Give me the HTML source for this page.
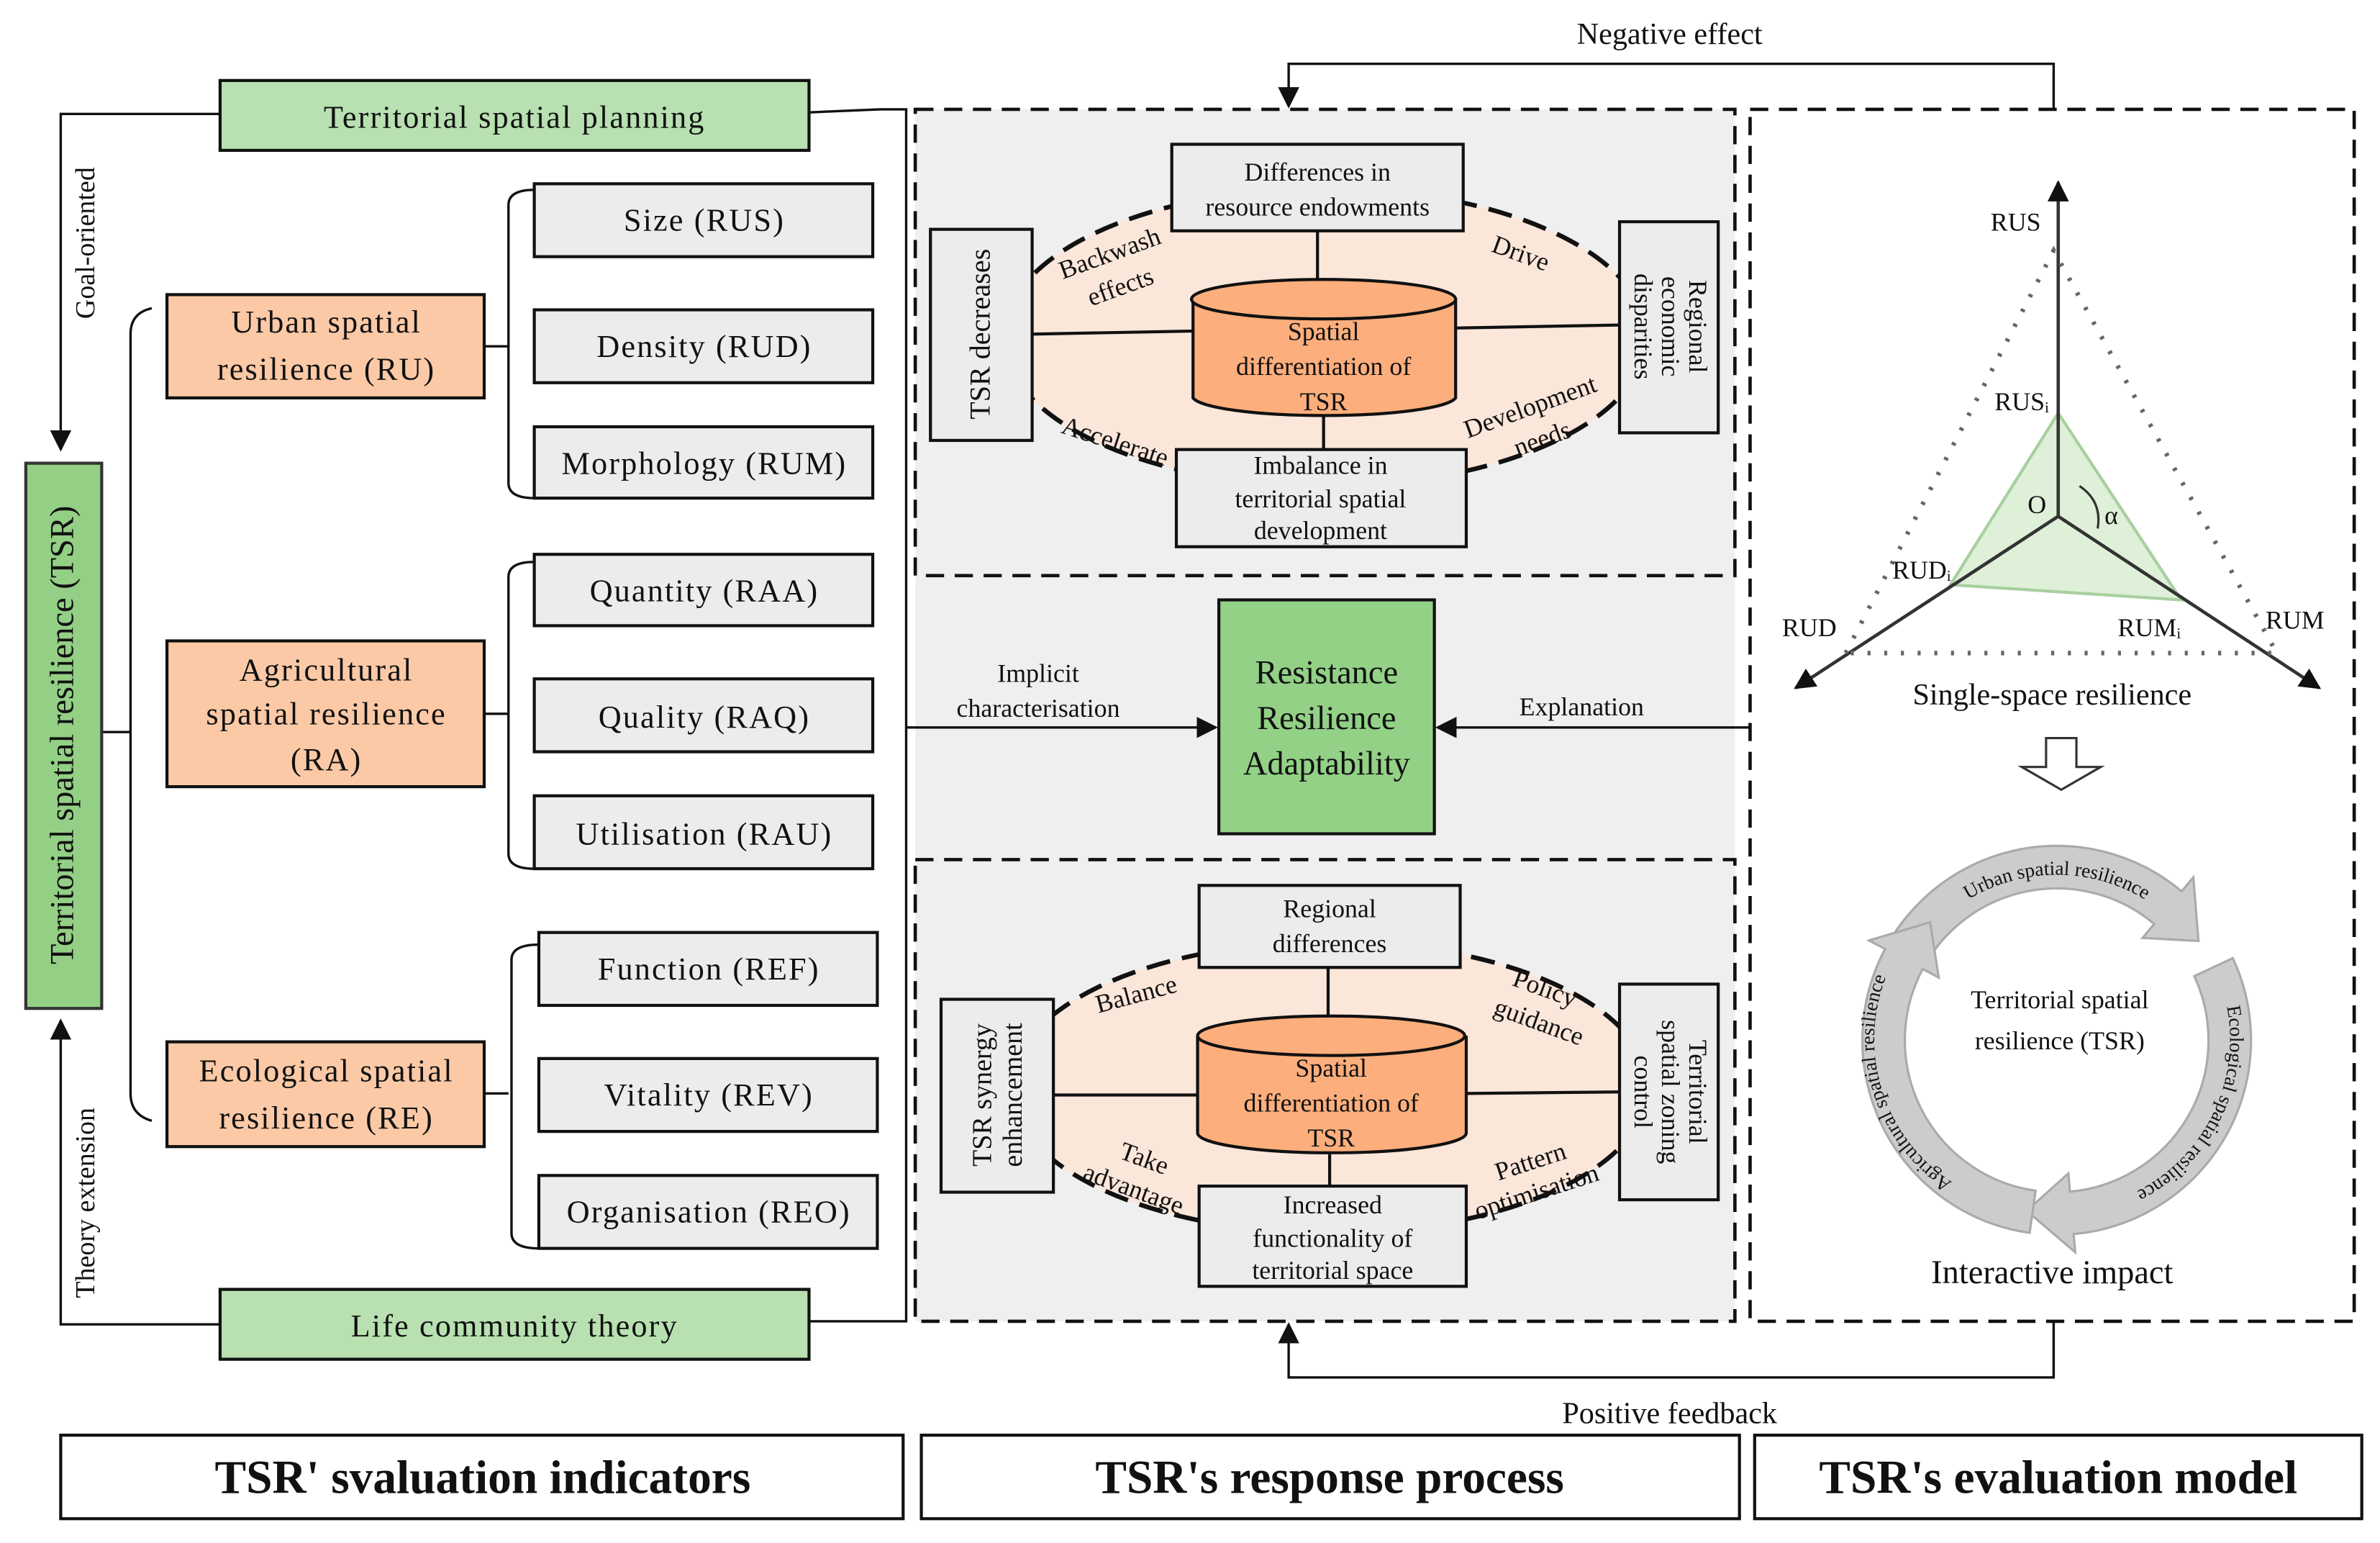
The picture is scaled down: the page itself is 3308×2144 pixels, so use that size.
<!DOCTYPE html>
<html><head><meta charset="utf-8"><style>
html,body{margin:0;padding:0;background:#fff;font-family:"Liberation Serif","Times New Roman",serif;}
svg{display:block;}
svg text{font-family:"Liberation Serif","Times New Roman",serif;fill:#111;}
</style></head><body>
<svg width="3308" height="2144" viewBox="0 0 1568 1016" preserveAspectRatio="none" xmlns="http://www.w3.org/2000/svg" font-family="Liberation Serif, Times New Roman, serif">
<defs>
<marker id="ahb" viewBox="0 0 10 10" refX="9" refY="5" markerWidth="14" markerHeight="14" orient="auto" markerUnits="userSpaceOnUse"><path d="M0,0 L10,5 L0,10 z" fill="#111"/></marker>
<path id="arcU" d="M1258,632 A112,112 0 0 1 1452,632"/>
<path id="arcE" d="M1460,640 A112,112 0 0 1 1385,793"/>
<path id="arcA" d="M1310,790 A112,112 0 0 1 1255,620"/>
</defs>
<rect width="1568" height="1016" fill="#fff"/>

<g stroke="#111" stroke-width="1.6" fill="none">
<polyline points="145,75 40,75 40,296" marker-end="url(#ahb)"/>
<polyline points="145,872 40,872 40,672" marker-end="url(#ahb)"/>
<polyline points="533,74 580,72 597,72 597,870 533,870"/>
<line x1="67" y1="482" x2="86" y2="482"/>
<path d="M100,203 Q86,206 86,220 L86,720 Q86,734 100,738"/>
<line x1="319" y1="228" x2="335" y2="228"/>
<path d="M352,125 Q335,125 335,135 L335,318 Q335,328 352,328"/>
<line x1="319" y1="470" x2="335" y2="470"/>
<path d="M352,370 Q335,370 335,380 L335,562 Q335,572 352,572"/>
<line x1="319" y1="720" x2="335" y2="720"/>
<path d="M355,622 Q337,622 337,632 L337,812 Q337,822 355,822"/>
</g>
<text transform="translate(62,160) rotate(-90)" font-size="18" text-anchor="middle">Goal-oriented</text>
<text transform="translate(62,792) rotate(-90)" font-size="18" text-anchor="middle">Theory extension</text>

<rect x="145" y="53" width="388" height="46" fill="#b8e0b1" stroke="#111" stroke-width="2"/>
<text x="339" y="84" font-size="21" text-anchor="middle" letter-spacing="1">Territorial spatial planning</text>
<rect x="145" y="849" width="388" height="46" fill="#b8e0b1" stroke="#111" stroke-width="2"/>
<text x="339" y="880" font-size="21" text-anchor="middle" letter-spacing="1">Life community theory</text>

<rect x="17" y="305" width="50" height="359" fill="#93cf85" stroke="#333" stroke-width="2"/>
<text transform="translate(48,484) rotate(-90)" font-size="22" text-anchor="middle">Territorial spatial resilience (TSR)</text>

<g fill="#fbc9a6" stroke="#111" stroke-width="2">
<rect x="110" y="194" width="209" height="68"/>
<rect x="110" y="422" width="209" height="96"/>
<rect x="110" y="686" width="209" height="69"/>
</g>
<g font-size="21" text-anchor="middle" letter-spacing="1">
<text x="215" y="219">Urban spatial</text><text x="215" y="250">resilience (RU)</text>
<text x="215" y="448">Agricultural</text><text x="215" y="477">spatial resilience</text><text x="215" y="507">(RA)</text>
<text x="215" y="712">Ecological spatial</text><text x="215" y="743">resilience (RE)</text>
</g>

<g fill="#ececec" stroke="#111" stroke-width="2">
<rect x="352" y="121" width="223" height="48"/>
<rect x="352" y="204" width="223" height="48"/>
<rect x="352" y="281" width="223" height="47"/>
<rect x="352" y="365" width="223" height="47"/>
<rect x="352" y="447" width="223" height="48"/>
<rect x="352" y="524" width="223" height="48"/>
<rect x="355" y="614" width="223" height="48"/>
<rect x="355" y="697" width="223" height="48"/>
<rect x="355" y="774" width="223" height="48"/>
</g>
<g font-size="21" text-anchor="middle" letter-spacing="1">
<text x="464" y="152">Size (RUS)</text>
<text x="464" y="235">Density (RUD)</text>
<text x="464" y="312">Morphology (RUM)</text>
<text x="464" y="396">Quantity (RAA)</text>
<text x="464" y="479">Quality (RAQ)</text>
<text x="464" y="556">Utilisation (RAU)</text>
<text x="467" y="645">Function (REF)</text>
<text x="467" y="728">Vitality (REV)</text>
<text x="467" y="805">Organisation (REO)</text>
</g>

<rect x="603" y="72" width="540" height="798" fill="#efefef"/>
<g stroke="#111" stroke-width="2.2" fill="none" stroke-dasharray="12,7">
<rect x="603" y="72" width="540" height="307"/>
<rect x="603" y="566" width="540" height="304"/>
<rect x="1153" y="72" width="398" height="798"/>
</g>

<g stroke="#111" stroke-width="1.6" fill="none">
<polyline points="1353,72 1353,42 849,42 849,70" marker-end="url(#ahb)"/>
<polyline points="1353,870 1353,907 849,907 849,872" marker-end="url(#ahb)"/>
<line x1="597" y1="479" x2="801" y2="479" marker-end="url(#ahb)"/>
<line x1="1153" y1="479" x2="947" y2="479" marker-end="url(#ahb)"/>
</g>
<text x="1100" y="29" font-size="20" text-anchor="middle">Negative effect</text>
<text x="1100" y="937" font-size="20" text-anchor="middle">Positive feedback</text>
<text x="684" y="449" font-size="17" text-anchor="middle">Implicit</text>
<text x="684" y="472" font-size="17" text-anchor="middle">characterisation</text>
<text x="1042" y="471" font-size="17" text-anchor="middle">Explanation</text>

<rect x="803" y="395" width="142" height="154" fill="#93d186" stroke="#111" stroke-width="2"/>
<g font-size="22" text-anchor="middle"><text x="874" y="450">Resistance</text><text x="874" y="480">Resilience</text><text x="874" y="510">Adaptability</text></g>

<ellipse cx="873" cy="222" rx="212" ry="98" fill="#fbe6da" stroke="#111" stroke-width="3" stroke-dasharray="16,8"/>
<g stroke="#111" stroke-width="2">
<line x1="868" y1="152" x2="868" y2="190"/><line x1="872" y1="270" x2="872" y2="296"/>
<line x1="680" y1="220" x2="786" y2="218"/><line x1="959" y1="216" x2="1067" y2="214"/>
</g>
<g fill="#ececec" stroke="#111" stroke-width="2">
<rect x="772" y="95" width="192" height="57"/>
<rect x="613" y="151" width="67" height="139"/>
<rect x="1067" y="146" width="65" height="139"/>
<rect x="775" y="296" width="191" height="64"/>
</g>
<path d="M786,197 L786,262 A87,13 0 0 0 959,262 L959,197" fill="#fcae7c" stroke="#111" stroke-width="2"/>
<ellipse cx="872" cy="197" rx="87" ry="13" fill="#fcae7c" stroke="#111" stroke-width="2"/>
<g font-size="17" text-anchor="middle">
<text x="868" y="119">Differences in</text><text x="868" y="142">resource endowments</text>
<text x="872" y="224">Spatial</text><text x="872" y="247">differentiation of</text><text x="872" y="270">TSR</text>
<text x="870" y="312">Imbalance in</text><text x="870" y="334">territorial spatial</text><text x="870" y="355">development</text>
<text transform="translate(652,220) rotate(-90)" font-size="19">TSR decreases</text>
<text transform="translate(1099,215) rotate(90)"><tspan x="0" y="-14">Regional</tspan><tspan x="0" y="4">economic</tspan><tspan x="0" y="22">disparities</tspan></text>
<text transform="translate(733,172) rotate(-20)">Backwash</text>
<text transform="translate(740,194) rotate(-20)">effects</text>
<text transform="translate(1000,172) rotate(20)">Drive</text>
<text transform="translate(733,296) rotate(18)">Accelerate</text>
<text transform="translate(1010,273) rotate(-20)">Development</text>
<text transform="translate(1018,294) rotate(-20)">needs</text>
</g>

<ellipse cx="876" cy="716" rx="210" ry="96" fill="#fbe6da" stroke="#111" stroke-width="3" stroke-dasharray="16,8"/>
<g stroke="#111" stroke-width="2">
<line x1="875" y1="637" x2="875" y2="676"/><line x1="876" y1="760" x2="876" y2="781"/>
<line x1="694" y1="721" x2="789" y2="721"/><line x1="966" y1="720" x2="1067" y2="719"/>
</g>
<g fill="#ececec" stroke="#111" stroke-width="2">
<rect x="790" y="583" width="172" height="54"/>
<rect x="620" y="658" width="74" height="127"/>
<rect x="1067" y="648" width="65" height="142"/>
<rect x="790" y="781" width="176" height="66"/>
</g>
<path d="M789,682 L789,746 A88,13 0 0 0 966,746 L966,682" fill="#fcae7c" stroke="#111" stroke-width="2"/>
<ellipse cx="877" cy="682" rx="88" ry="13" fill="#fcae7c" stroke="#111" stroke-width="2"/>
<g font-size="17" text-anchor="middle">
<text x="876" y="604">Regional</text><text x="876" y="627">differences</text>
<text x="877" y="709">Spatial</text><text x="877" y="732">differentiation of</text><text x="877" y="755">TSR</text>
<text x="878" y="799">Increased</text><text x="878" y="821">functionality of</text><text x="878" y="842">territorial space</text>
<text transform="translate(657,721) rotate(-90)" font-size="18"><tspan x="0" y="-4">TSR synergy</tspan><tspan x="0" y="16">enhancement</tspan></text>
<text transform="translate(1099,719) rotate(90)"><tspan x="0" y="-14">Territorial</tspan><tspan x="0" y="4">spatial zoning</tspan><tspan x="0" y="22">control</tspan></text>
<text transform="translate(750,660) rotate(-15)">Balance</text>
<text transform="translate(1016,656) rotate(20)">Policy</text>
<text transform="translate(1012,678) rotate(20)">guidance</text>
<text transform="translate(752,768) rotate(20)">Take</text>
<text transform="translate(745,788) rotate(20)">advantage</text>
<text transform="translate(1010,770) rotate(-18)">Pattern</text>
<text transform="translate(1014,790) rotate(-18)">optimisation</text>
</g>

<polygon points="1356,272 1285,385 1437,395" fill="#dff0d8" stroke="#a8cfa0" stroke-width="2"/>
<g stroke="#333" stroke-width="2.2">
<line x1="1356" y1="340" x2="1356" y2="120" marker-end="url(#ahb)"/>
<line x1="1356" y1="340" x2="1183" y2="453" marker-end="url(#ahb)"/>
<line x1="1356" y1="340" x2="1528" y2="453" marker-end="url(#ahb)"/>
</g>
<g stroke="#666" stroke-width="3" stroke-dasharray="2,9" fill="none">
<polyline points="1216,430 1353,165 1500,430 1216,430"/>
</g>
<path d="M1370,320 Q1385,330 1382,348" stroke="#333" stroke-width="1.5" fill="none"/>
<g font-size="17" text-anchor="middle">
<text x="1328" y="152">RUS</text>
<text x="1332" y="270">RUSᵢ</text>
<text x="1342" y="338">O</text>
<text x="1391" y="345">α</text>
<text x="1266" y="381">RUDᵢ</text>
<text x="1416" y="419">RUMᵢ</text>
<text x="1192" y="419">RUD</text>
<text x="1512" y="414">RUM</text>
<text x="1352" y="464" font-size="20">Single-space resilience</text>
<text x="1352" y="845" font-size="22">Interactive impact</text>
</g>
<path d="M1348,486 L1368,486 L1368,505 L1384,505 L1358,520 L1332,505 L1348,505 Z" fill="#fff" stroke="#333" stroke-width="1.5"/>

<g fill="#cccccc" stroke="#aaa" stroke-width="1.5">
<path transform="translate(1355,685) rotate(-160)" d="M128,0 A128,128 0 0 1 -43.8,120.3 L-47.9,131.6 L-65.4,93.4 L-30.1,82.7 L-34.2,94 A100,100 0 0 0 100,0 Z"/>
<path transform="translate(1355,685) rotate(-25)" d="M128,0 A128,128 0 0 1 -43.8,120.3 L-47.9,131.6 L-65.4,93.4 L-30.1,82.7 L-34.2,94 A100,100 0 0 0 100,0 Z"/>
<path transform="translate(1355,685) rotate(98)" d="M128,0 A128,128 0 0 1 -43.8,120.3 L-47.9,131.6 L-65.4,93.4 L-30.1,82.7 L-34.2,94 A100,100 0 0 0 100,0 Z"/>
</g>
<g font-size="13">
<text><textPath href="#arcU" startOffset="50%" text-anchor="middle">Urban spatial resilience</textPath></text>
<text><textPath href="#arcE" startOffset="50%" text-anchor="middle">Ecological spatial resilience</textPath></text>
<text><textPath href="#arcA" startOffset="50%" text-anchor="middle">Agricultural spatial resilience</textPath></text>
</g>
<text x="1357" y="664" font-size="17" text-anchor="middle">Territorial spatial</text>
<text x="1357" y="691" font-size="17" text-anchor="middle">resilience (TSR)</text>

<g fill="#fff" stroke="#111" stroke-width="2">
<rect x="40" y="945" width="555" height="55"/>
<rect x="607" y="945" width="539" height="55"/>
<rect x="1156" y="945" width="400" height="55"/>
</g>
<g font-size="31" font-weight="bold" text-anchor="middle">
<text x="318" y="983">TSR' svaluation indicators</text>
<text x="876" y="983">TSR's response process</text>
<text x="1356" y="983">TSR's evaluation model</text>
</g>
</svg>
</body></html>
